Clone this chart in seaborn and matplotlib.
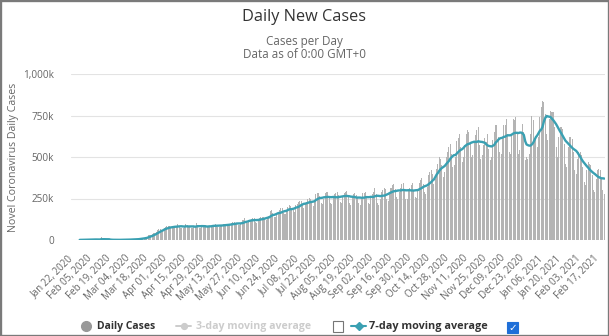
import numpy as np
import pandas as pd
import matplotlib
matplotlib.use("Agg")
import matplotlib.pyplot as plt
import seaborn as sns
from matplotlib.lines import Line2D
from matplotlib.patches import Rectangle

# ---------------- data (thousands of cases per day) ----------------
start_date = "2020-01-22"
daily_cases_k = [
    0.6, 0.1, 0.3, 0.7, 0.7, 0.8, 1.5,
    1.2, 1.7, 2.0, 2.1, 2.6, 2.8, 3.2,
    3.9, 3.7, 3.2, 3.4, 2.7, 3.0, 2.5,
    2.0, 15.1, 6.5, 2.2, 2.1, 2.0, 1.9,
    0.5, 0.6, 1.0, 1.2, 0.7, 0.6, 0.9,
    1.1, 1.3, 1.9, 1.8, 2.2, 2.0, 2.6,
    2.6, 2.9, 3.9, 3.9, 4.0, 3.9, 4.7,
    7.2, 7.5, 10.9, 10.9, 11.3, 14.0, 15.2,
    17.4, 27.3, 30.4, 31.9, 33.8, 40.0, 40.0,
    50.1, 62.2, 63.5, 65.0, 61.5, 62.0, 74.0,
    76.0, 81.5, 85.0, 81.5, 71.0, 72.0, 82.0,
    85.0, 87.0, 95.0, 82.0, 75.0, 72.0, 75.0,
    80.0, 99.0, 90.0, 81.0, 76.0, 73.0, 75.0,
    79.0, 86.0, 102.0, 92.0, 75.0, 73.0, 80.0,
    77.0, 84.0, 93.0, 85.0, 80.0, 78.0, 80.0,
    90.0, 91.0, 95.0, 88.0, 78.0, 80.0, 86.0,
    93.0, 96.0, 98.0, 97.0, 82.0, 88.0, 92.0,
    102.0, 107.0, 107.0, 105.0, 95.0, 90.0, 92.0,
    104.0, 118.0, 122.0, 130.0, 110.0, 100.0, 115.0,
    120, 128, 130, 132, 110, 105, 120,
    133, 137, 141, 140, 130, 120, 140,
    142, 175, 180, 165, 140, 140, 165,
    170, 180, 195, 190, 165, 155, 175,
    200, 210, 205, 190, 180, 170, 208,
    215, 230, 235, 232, 210, 195, 215,
    230, 250, 255, 245, 220, 205, 230,
    280, 285, 285, 265, 225, 215, 245,
    285, 290, 292, 260, 220, 215, 255,
    275, 285, 290, 270, 230, 225, 265,
    285, 290, 295, 260, 225, 210, 260,
    280, 285, 270, 260, 225, 210, 250,
    285, 285, 290, 265, 220, 215, 260,
    280, 290, 315, 280, 225, 210, 250,
    290, 300, 315, 305, 250, 235, 285,
    315, 330, 335, 310, 260, 250, 290,
    315, 340, 345, 305, 250, 250, 295,
    315, 330, 345, 300, 260, 255, 300,
    345, 360, 375, 340, 290, 275, 320,
    390, 410, 420, 400, 340, 370, 430,
    460, 500, 490, 450, 380, 410, 500,
    530, 560, 580, 520, 440, 450, 500,
    595, 615, 640, 560, 470, 500, 570,
    640, 660, 650, 590, 500, 515, 590,
    630, 660, 680, 575, 490, 510, 570,
    615, 590, 640, 550, 480, 500, 600,
    650, 690, 690, 620, 530, 520, 610,
    690, 695, 730, 640, 530, 520, 640,
    730, 720, 740, 640, 520, 540, 640,
    700, 650, 480, 500, 490, 520, 640,
    750, 720, 600, 620, 560, 620, 740,
    800, 840, 830, 760, 640, 600, 730,
    780, 770, 770, 680, 560, 500, 620,
    680, 680, 670, 580, 460, 440, 560,
    620, 620, 610, 530, 420, 400, 490,
    530, 530, 510, 440, 350, 330, 420,
    470, 460, 450, 390, 300, 290, 370,
    420, 430, 420, 370, 300, 280,
]
tick_every_days = 14
y_ticks = [0, 250, 500, 750, 1000]
y_tick_labels = ["0", "250k", "500k", "750k", "1,000k"]
title = "Daily New Cases"
subtitle_lines = ["Cases per Day", "Data as of 0:00 GMT+0"]
y_label = "Novel Coronavirus Daily Cases"
legend_labels = ["Daily Cases", "3-day moving average", "7-day moving average"]

# ---------------- frame ----------------
dates = pd.date_range(start_date, periods=len(daily_cases_k), freq="D")
df = pd.DataFrame({"date": dates, "cases": daily_cases_k})
df["pos"] = np.arange(len(df))
df["avg7"] = df["cases"].rolling(7).mean()
n = len(df)

sns.set_theme(style="white")
plt.rcParams["font.family"] = ["Open Sans", "DejaVu Sans"]

W, H = 609, 336
fig = plt.figure(figsize=(W / 100, H / 100), dpi=100)
fig.patch.set_facecolor("white")
ax = fig.add_axes([71 / W, 1 - 240 / H, (605 - 71) / W, (240 - 74) / H])

BAR = "#b4b4b4"
TEAL = "#3aa0b2"
GRAY_TXT = "#666666"

sns.barplot(data=df, x="pos", y="cases", color=BAR, width=0.75, ax=ax,
            native_scale=True, saturation=1, linewidth=0)
sns.lineplot(data=df, x="pos", y="avg7", color=TEAL, lw=1.7, ax=ax)

ax.set_xlim(-0.5, n - 0.5)
ax.set_ylim(0, 1000)
for s in ax.spines.values():
    s.set_visible(False)
ax.grid(axis="y", color="#e3e3e3", lw=0.8)
ax.grid(axis="x", visible=False)
ax.set_axisbelow(True)

ticks = list(range(0, n, tick_every_days))
ax.set_xticks(ticks)
ax.set_xticklabels([dates[i].strftime("%b %d, %Y") for i in ticks],
                   rotation=45, ha="right", va="center", rotation_mode="anchor")
ax.tick_params(axis="x", length=0, labelsize=7.0, labelcolor=GRAY_TXT, pad=12)
ax.set_yticks(y_ticks)
ax.set_yticklabels(y_tick_labels)
ax.tick_params(axis="y", length=0, labelsize=7.2, labelcolor=GRAY_TXT, pad=12)
ax.set_xlabel("")
ax.set_ylabel(y_label, fontsize=7.7, color=GRAY_TXT, labelpad=3)

# ---------------- titles ----------------
fig.text(0.5, 1 - 17 / H, title, ha="center", va="center", fontsize=11.7, color="#333333")
fig.text(0.5, 1 - 41 / H, subtitle_lines[0], ha="center", va="center", fontsize=8.4, color=GRAY_TXT)
fig.text(0.5, 1 - 55 / H, subtitle_lines[1], ha="center", va="center", fontsize=8.4, color=GRAY_TXT)

# ---------------- legend ----------------
ly = 1 - 326 / H
def fx(px):
    return px / W

fig.add_artist(Line2D([fx(86)], [ly], marker="o", ms=7, color="#999999", lw=0,
                      transform=fig.transFigure))
fig.text(fx(97), ly, legend_labels[0], ha="left", va="center", fontsize=7.5,
         fontweight="bold", color="#333333")

fig.add_artist(Line2D([fx(176), fx(191)], [ly, ly], color="#cccccc", lw=1.4,
                      transform=fig.transFigure))
fig.add_artist(Line2D([fx(183.5)], [ly], marker="o", ms=4.2, color="#cccccc", lw=0,
                      transform=fig.transFigure))
fig.text(fx(196), ly, legend_labels[1], ha="left", va="center", fontsize=7.6,
         fontweight="bold", color="#cccccc")

fig.add_artist(Rectangle((fx(333), 1 - 332 / H), 10 / W, 11 / H, transform=fig.transFigure,
                         facecolor="white", edgecolor="#767676", lw=0.8))

fig.add_artist(Line2D([fx(351), fx(366)], [ly, ly], color=TEAL, lw=1.5,
                      transform=fig.transFigure))
fig.add_artist(Line2D([fx(358.5)], [ly], marker="D", ms=3.8, color=TEAL, lw=0,
                      transform=fig.transFigure))
fig.text(fx(369), ly, legend_labels[2], ha="left", va="center", fontsize=7.8,
         fontweight="bold", color="#333333")

fig.add_artist(Rectangle((fx(507), 1 - 333 / H), 11 / W, 11 / H, transform=fig.transFigure,
                         facecolor="#1f6fd8", edgecolor="#1f6fd8", lw=0.8))
fig.text(fx(512.5), 1 - 327.5 / H, "\u2713", ha="center", va="center", fontsize=7.5,
         fontweight="bold", color="white", family=["DejaVu Sans"])

# outer frame
fig.add_artist(Rectangle((0, 0), 1, 1, transform=fig.transFigure, fill=False,
                         edgecolor="#7a7a7a", lw=2.4))

fig.savefig("out.png", dpi=100, facecolor="white")
